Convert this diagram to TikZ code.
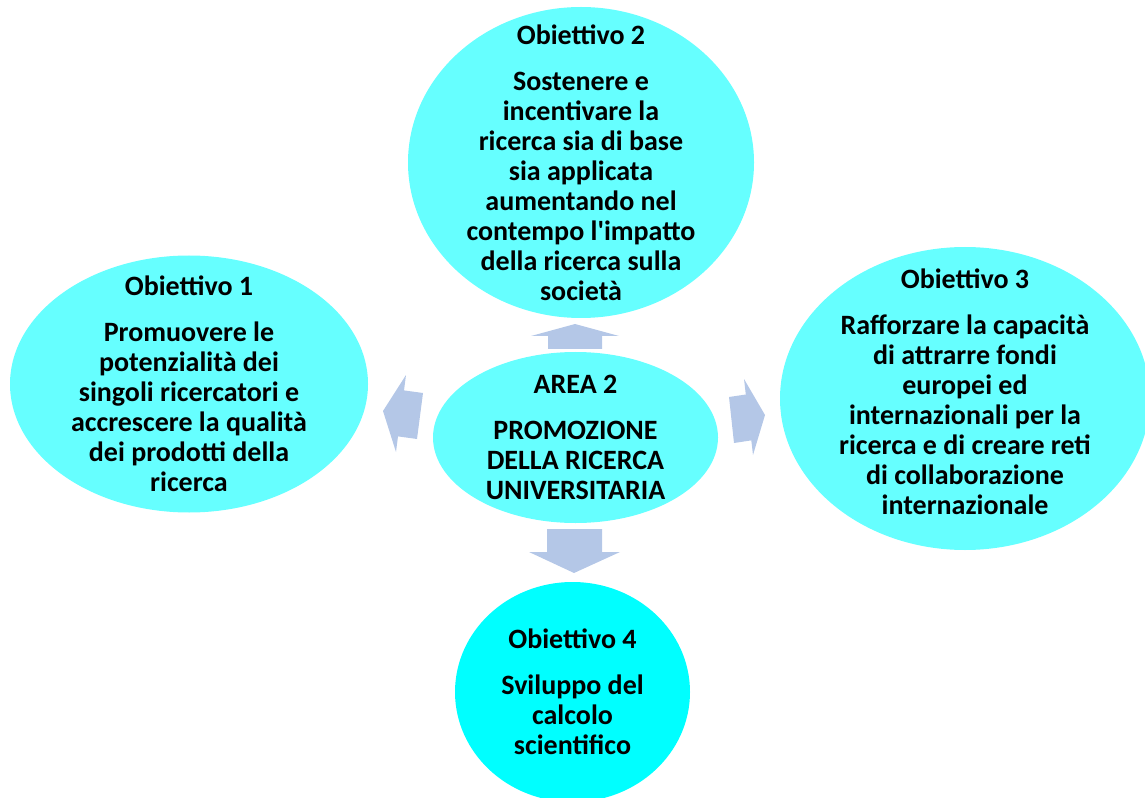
\documentclass[tikz,border=0pt]{standalone}
\usepackage{fontspec}
\setmainfont{Carlito}[Ligatures=TeXOff]
\usepackage{tikz}
\usetikzlibrary{positioning}
\usetikzlibrary{shapes.geometric}
\definecolor{goalcyan}{HTML}{66FFFF}
\definecolor{deepcyan}{HTML}{00FFFF}
\definecolor{arrowblue}{HTML}{B4C7E7}
\tikzstyle{goal} = [ellipse,fill=goalcyan,inner sep=0pt]
\tikzstyle{goaltext} = [inner sep=0pt,align=center,font=\fontsize{21}{22.5}\selectfont\bfseries]
\tikzstyle{bigarrow} = [fill=arrowblue]

\begin{document}
\begin{tikzpicture}[x=0.75pt,y=-0.75pt]
			\useasboundingbox (0,0) rectangle (1145,798);
			%Nodes
			\node (ellipse) [goal,minimum width=213.75pt,minimum height=128.25pt] (Area) at (575.5,437.5) {};
			\node (ellipse) [goal,minimum width=259.5pt,minimum height=233.25pt] (Obj2) at (581,162.5) {};
			\node (ellipse) [goal,minimum width=268.5pt,minimum height=192.75pt] (Obj1) at (189,384) {};
			\node (ellipse) [goal,minimum width=277.5pt,minimum height=227.25pt] (Obj3) at (965,398.5) {};
			\node (ellipse) [goal,fill=deepcyan,minimum width=176.25pt,minimum height=165pt] (Obj4) at (572.5,692) {};
			
			%Texts
			\node [goaltext] (AreaText) at (Area.center) {AREA 2\\[12pt]PROMOZIONE\\DELLA RICERCA\\UNIVERSITARIA};
			\node [goaltext] (Obj2Text) at (Obj2.center) {Obiettivo 2\\[12pt]Sostenere e\\incentivare la\\ricerca sia di base\\sia applicata\\aumentando nel\\contempo l'impatto\\della ricerca sulla\\società};
			\node [goaltext] (Obj1Text) at (Obj1.center) {Obiettivo 1\\[12pt]Promuovere le\\potenzialità dei\\singoli ricercatori e\\accrescere la qualità\\dei prodotti della\\ricerca};
			\node [goaltext,yshift=5pt] (Obj3Text) at (Obj3.center) {Obiettivo 3\\[12pt]Rafforzare la capacità\\di attrarre fondi\\europei ed\\internazionali per la\\ricerca e di creare reti\\di collaborazione\\internazionale};
			\node [goaltext] (Obj4Text) at (Obj4.center) {Obiettivo 4\\[12pt]Sviluppo del\\calcolo\\scientifico};
			
			%Arrows
			\fill[bigarrow] (548,349) -- (548,336) -- (531,336) -- (575,324) -- (619,336) -- (602,336) -- (602,349) -- cycle;
			\fill[bigarrow] (547,529) -- (602,529) -- (602,552) -- (620,552) -- (574,573) -- (529,552) -- (547,552) -- cycle;
			\fill[bigarrow] (423,393) -- (404,390.4) -- (406,375) -- (383,411) -- (396,452) -- (398,436.4) -- (417,439) -- cycle;
			\fill[bigarrow] (729,397) -- (745.8,394.5) -- (744,379) -- (765,415) -- (753,455) -- (751.3,440.4) -- (734,443) -- cycle;
		\end{tikzpicture}
\end{document}
